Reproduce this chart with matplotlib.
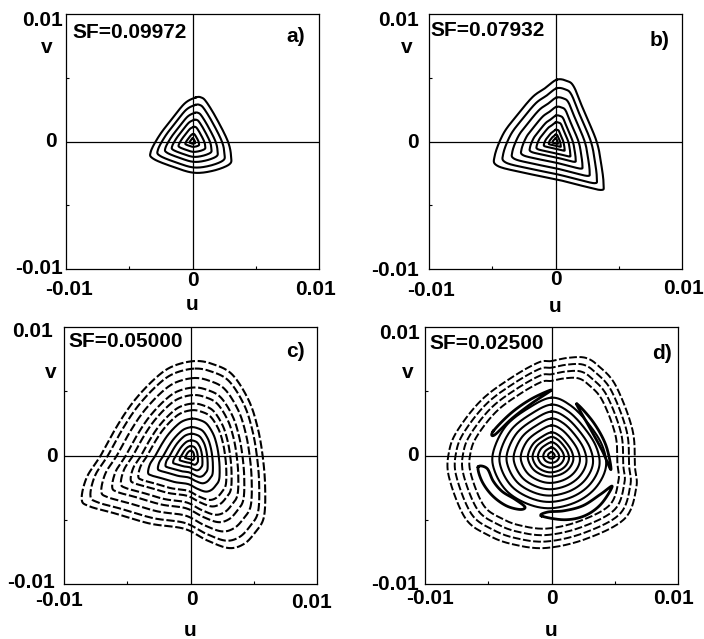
import numpy as np
import matplotlib
matplotlib.use("Agg")
import matplotlib.pyplot as plt

plt.rcParams['font.family'] = ['Liberation Sans', 'DejaVu Sans']
plt.rcParams['font.weight'] = 'bold'

# orbits in units of 1e-3; each panel: outermost orbit + scales of nested orbits
a_u = [0.25, -0.6, -1.6, -2.6, -3.3, -3.1, -1.5, 0.1, 1.6, 2.9, 3.05, 2.8, 1.9, 1.1, 0.7]
a_v = [3.45, 3.0, 1.8, 0.5, -0.8, -1.35, -2.0, -2.45, -2.3, -1.8, -1.2, 0.0, 1.8, 3.1, 3.45]
a_scales = [1, 0.83, 0.65, 0.49, 0.33, 0.17, 0.07]

b_u = [0.1, -0.8, -1.8, -3.0, -4.1, -4.8, -4.6, -2.5, 0.2, 2.0, 3.6, 3.8, 3.65, 3.25, 2.2, 1.45, 0.9]
b_v = [4.85, 4.2, 3.5, 2.1, 0.65, -1.1, -1.9, -2.45, -3.0, -3.45, -3.8, -3.4, -2.0, 0.0, 2.5, 4.3, 4.75]
b_scales = [1, 0.86, 0.71, 0.56, 0.42, 0.31, 0.19, 0.11, 0.05]

c_u = [0.3, -1.5, -2.9, -4.5, -5.8, -7.1, -8.2, -8.6, -8.0, -6.0, -3.2, -0.5, 1.3, 3.0,
       4.2, 5.1, 5.8, 5.9, 5.7, 5.3, 4.6, 3.3, 1.8]
c_v = [7.35, 6.9, 5.9, 4.2, 2.3, 0.0, -1.7, -3.4, -3.95, -4.5, -5.3, -5.7, -6.6, -7.2,
       -6.9, -6.0, -4.8, -2.4, 0.0, 2.2, 4.3, 6.3, 7.1]
c_scales = [1, 0.92, 0.82, 0.72, 0.64, 0.55, 0.48, 0.39, 0.30, 0.23, 0.16, 0.10, 0.05]

d_out_u = [0.0, -1.0, -3.1, -5.5, -7.4, -8.1, -8.1, -6.8, -5.0, -3.1, -0.5, 2.7, 5.8, 6.7,
           6.6, 6.4, 5.1, 3.8, 2.7, 1.3]
d_out_v = [7.35, 7.25, 6.1, 4.35, 2.0, 0.3, -1.7, -4.9, -6.2, -6.9, -7.2, -6.5, -4.9, -2.5,
           -0.9, 2.0, 5.4, 6.9, 7.6, 7.6]
d_out_scales = [1, 0.93, 0.86, 0.79]
d_in_u = [0.0, -1.8, -3.6, -4.6, -4.5, -3.5, -1.8, 0.0, 2.0, 3.5, 4.3, 4.0, 2.9, 1.5]
d_in_v = [4.5, 3.7, 2.3, 0.3, -1.2, -2.8, -3.8, -4.1, -3.6, -2.5, -0.9, 0.8, 2.5, 3.9]
d_in_scales = [1, 0.88, 0.76, 0.64, 0.52, 0.40, 0.32, 0.23, 0.14, 0.06]
# island chain in panel d
isl_U = ([-4.6, -3.2, -1.6, 0.0, -1.5, -3.1, -4.5], [1.9, 3.3, 4.4, 5.1, 4.1, 2.9, 1.6])
isl_R = ([2.0, 3.3, 4.3, 4.7, 4.0, 3.0], [4.0, 2.6, 0.8, -1.1, 0.4, 2.2])
isl_B = ([-0.8, 1.0, 2.6, 3.9, 4.8, 3.9, 2.5, 1.0, -0.3], [-4.7, -5.0, -4.7, -3.8, -2.4, -3.0, -3.9, -4.3, -4.4])
isl_L = ([-5.8, -5.5, -4.7, -3.6, -2.5, -2.1, -2.9, -3.9, -4.6, -5.1],
         [-0.9, -2.0, -3.1, -3.9, -4.2, -4.0, -3.4, -2.8, -2.0, -1.0])

sf_labels = ["SF=0.09972", "SF=0.07932", "SF=0.05000", "SF=0.02500"]
letters = ["a)", "b)", "c)", "d)"]


def closed_curve(u, v, n=20):
    p = np.column_stack([u, v])
    p0, p1, p2, p3 = np.roll(p, 1, 0), p, np.roll(p, -1, 0), np.roll(p, -2, 0)
    t = np.linspace(0, 1, n, endpoint=False)[:, None, None]
    c = 0.5 * (2 * p1 + (p2 - p0) * t + (2 * p0 - 5 * p1 + 4 * p2 - p3) * t ** 2
               + (3 * p1 - p0 - 3 * p2 + p3) * t ** 3)
    c = c.transpose(1, 0, 2).reshape(-1, 2)
    c = np.vstack([c, c[:1]])
    return c[:, 0] * 1e-3, c[:, 1] * 1e-3


def draw_family(ax, u, v, scales, dash_above=None, lw=1.5):
    cu, cv = closed_curve(u, v)
    for s in scales:
        ls = '-'
        if dash_above is not None and s > dash_above:
            ls = (0, (4, 1.3))
        ax.plot(cu * s, cv * s, color='k', lw=lw, ls=ls, zorder=3)


fig = plt.figure(figsize=(7.04, 6.39), dpi=100)
W, H = 704, 639

# pixel boxes (left, top, right, bottom)
boxes = [(66, 14, 319, 269), (429, 14, 682, 269), (64, 327, 317, 584), (425, 327, 678, 584)]
# y tick label pads and centres
ylab = [((3, -6), (9, 0), (3, 1)), ((10, -6.5), (10, -0.5), (10, -1)),
        ((11, -4.5), (6, -1), (9, 2)), ((5, -6.5), (6, 0), (6, 0))]
# x tick labels: (dx, dy) for -0.01, 0, 0.01 and dy for u
xlab = [((2.5, 20), (0, 11), (-4, 20), 35), ((2, 21), (0, 10.5), (1, 19), 37),
        ((-4.5, 17), (1, 15.5), (-6, 18), 47), ((5, 15), (0, 15), (-4, 15), 46)]
vpos = [(-19, -33), (-22, -33), (-13, -45), (-17, -45)]
sfpos = [(6, -18.5), (1, -16.5), (4, -14.5), (4, -16.5)]
letpos = [(-14, -22.5), (-13, -26), (-12, -24.5), (-6, -26.5)]

fs = 15
for i, (l, t, r, b) in enumerate(boxes):
    ax = fig.add_axes([l / W, 1 - b / H, (r - l) / W, (b - t) / H])
    ax.set_xlim(-0.01, 0.01)
    ax.set_ylim(-0.01, 0.01)
    ax.axhline(0, color='k', lw=0.9, zorder=2)
    ax.axvline(0, color='k', lw=0.9, zorder=2)
    for sp in ax.spines.values():
        sp.set_linewidth(0.9)
    ax.set_xticks([-0.005, 0.005])
    ax.set_yticks([-0.005, 0.005])
    ax.tick_params(direction='in', length=2, width=0.8, labelbottom=False, labelleft=False)

    if i == 0:
        draw_family(ax, a_u, a_v, a_scales, lw=1.5)
    elif i == 1:
        draw_family(ax, b_u, b_v, b_scales, lw=1.5)
    elif i == 2:
        draw_family(ax, c_u, c_v, c_scales, dash_above=0.45, lw=1.5)
    else:
        draw_family(ax, d_out_u, d_out_v, d_out_scales, dash_above=0.0, lw=1.4)
        draw_family(ax, d_in_u, d_in_v, d_in_scales, lw=1.5)
        for iu, iv in (isl_U, isl_R, isl_B, isl_L):
            cu, cv = closed_curve(iu, iv, n=8)
            ax.plot(cu, cv, color='k', lw=2.0, zorder=3)

    kw = dict(fontsize=fs, fontweight='bold', textcoords='offset pixels', annotation_clip=False)
    for lab, yv, (pad, dy) in zip(["0.01", "0", "-0.01"], [1, 0.5, 0], ylab[i]):
        ax.annotate(lab, xy=(0, yv), xycoords='axes fraction', xytext=(-pad, dy),
                    ha='right', va='center', **kw)
    for lab, xv, (dx, dy) in zip(["-0.01", "0", "0.01"], [-0.01, 0, 0.01], xlab[i][:3]):
        ax.annotate(lab, xy=(xv, 0), xycoords=('data', 'axes fraction'), xytext=(dx, -dy),
                    ha='center', va='center', **kw)
    ax.annotate("u", xy=(0, 0), xycoords=('data', 'axes fraction'), xytext=(0, -xlab[i][3]),
                ha='center', va='center', **kw)
    ax.annotate("v", xy=(0, 1), xycoords='axes fraction', xytext=vpos[i],
                ha='center', va='center', **kw)
    ax.annotate(sf_labels[i], xy=(0, 1), xycoords='axes fraction', xytext=sfpos[i],
                ha='left', va='center', **kw)
    ax.annotate(letters[i], xy=(1, 1), xycoords='axes fraction', xytext=letpos[i],
                ha='right', va='center', **kw)

fig.savefig("out.png", dpi=100)
